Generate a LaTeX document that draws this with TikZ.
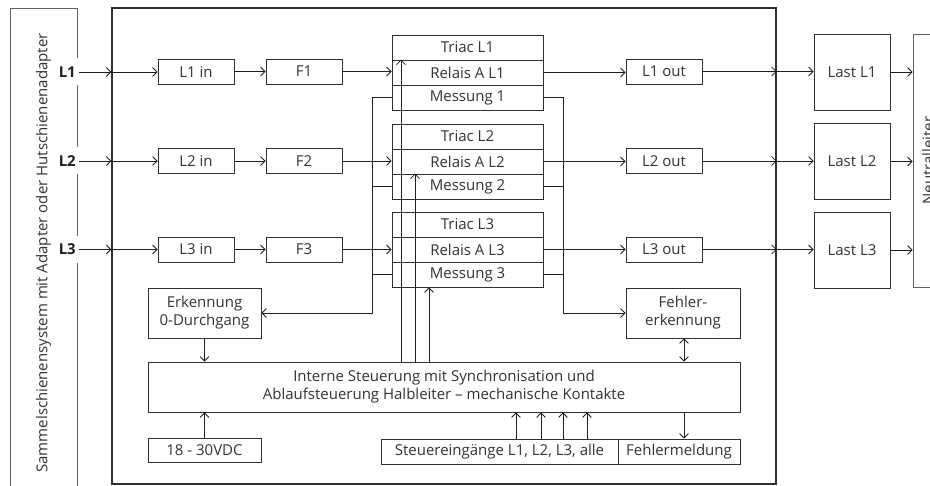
\documentclass[tikz,border=0pt]{standalone}
\usepackage{fontspec}
\setmainfont{Open Sans}
\usetikzlibrary{arrows.meta}
\definecolor{linec}{HTML}{1E1E1E}
\definecolor{boxc}{HTML}{303030}
\definecolor{grayc}{HTML}{606060}
\definecolor{txt}{HTML}{333333}
\begin{document}
\begin{tikzpicture}[x=1pt,y=-1pt,
  font=\fontsize{15}{18}\selectfont,
  box/.style={draw=boxc, line width=0.8pt, inner sep=0pt, text=txt, align=center},
  arr/.style={-{Straight Barb[length=4.5pt,width=9pt]}, line width=0.8pt, draw=linec},
  dbl/.style={{Straight Barb[length=4.5pt,width=9pt]}-{Straight Barb[length=4.5pt,width=9pt]}, line width=0.8pt, draw=linec},
  ln/.style={line width=0.8pt, draw=linec},
  lab/.style={font=\fontsize{15}{18}\selectfont\bfseries, text=linec, fill=white, inner xsep=3pt, inner ysep=0pt, minimum height=27pt, anchor=east}]
\useasboundingbox (0,0) rectangle (930,486);
\clip (0,0) rectangle (930,486);
\fill[white] (0,0) rectangle (930,486);

% outer boxes
\node[box, draw=grayc, rotate=90, minimum width=490pt, minimum height=67pt] (sam) at (43.5,253) {Sammelschienensystem mit Adapter oder Hutschienenadapter};
\node[box, draw=boxc, line width=1.3pt, minimum width=664pt, minimum height=476pt] (main) at (444,246) {};
\node[box, draw=grayc, rotate=90, minimum width=253pt, minimum height=30pt] (neut) at (928,160.5) {Neutralleiter};

% phase labels
\node[lab] (La) at (79,72) {L1};
\node[lab] (Lb) at (79,161) {L2};
\node[lab] (Lc) at (79,249.5) {L3};

% input boxes
\node[box, minimum width=76pt, minimum height=25pt] (in1) at (196,71.5) {L1 in};
\node[box, minimum width=76pt, minimum height=25pt] (in2) at (196,161) {L2 in};
\node[box, minimum width=76pt, minimum height=25pt] (in3) at (196,249.5) {L3 in};
\node[box, minimum width=76pt, minimum height=25pt] (f1) at (304,71.5) {F1};
\node[box, minimum width=76pt, minimum height=25pt] (f2) at (304,161) {F2};
\node[box, minimum width=76pt, minimum height=25pt] (f3) at (304,249.5) {F3};

% stacks
\node[box, minimum width=151pt, minimum height=25pt] (tr1) at (467.5,47.5) {Triac L1};
\node[box, minimum width=151pt, minimum height=25pt] (re1) at (467.5,72.5) {Relais A L1};
\node[box, minimum width=151pt, minimum height=25pt] (me1) at (467.5,97.5) {Messung 1};
\node[box, minimum width=151pt, minimum height=25pt] (tr2) at (467.5,136.5) {Triac L2};
\node[box, minimum width=151pt, minimum height=25pt] (re2) at (467.5,161.5) {Relais A L2};
\node[box, minimum width=151pt, minimum height=25pt] (me2) at (467.5,186.5) {Messung 2};
\node[box, minimum width=151pt, minimum height=25pt] (tr3) at (467.5,224.5) {Triac L3};
\node[box, minimum width=151pt, minimum height=25pt] (re3) at (467.5,249.5) {Relais A L3};
\node[box, minimum width=151pt, minimum height=25pt] (me3) at (467.5,274.5) {Messung 3};

% output boxes
\node[box, minimum width=76pt, minimum height=25pt] (out1) at (664,71.5) {L1 out};
\node[box, minimum width=76pt, minimum height=25pt] (out2) at (664,161) {L2 out};
\node[box, minimum width=76pt, minimum height=25pt] (out3) at (664,249.5) {L3 out};
\node[box, minimum width=76pt, minimum height=76pt] (last1) at (852,72) {Last L1};
\node[box, minimum width=76pt, minimum height=76pt] (last2) at (852,161.5) {Last L2};
\node[box, minimum width=76pt, minimum height=76pt] (last3) at (852,250) {Last L3};

% lower boxes
\node[box, minimum width=113pt, minimum height=50pt] (erk) at (204.5,313) {Erkennung\\0-Durchgang};
\node[box, minimum width=114pt, minimum height=50pt] (fe) at (683,313) {Fehler-\\erkennung};
\node[box, minimum width=592pt, minimum height=50pt] (int) at (444,387) {Interne Steuerung mit Synchronisation und\\Ablaufsteuerung Halbleiter – mechanische Kontakte};
\node[box, minimum width=113pt, minimum height=24pt] (vdc) at (204.5,450) {18 - 30VDC};
\node[box, minimum width=237pt, minimum height=25pt] (st) at (499.5,451.5) {Steuereingänge L1, L2, L3, alle};
\node[box, minimum width=122pt, minimum height=25pt] (fm) at (679,451.5) {Fehlermeldung};

% phase lines
\foreach \l/\i/\f/\r/\o/\la in {La/in1/f1/re1/out1/last1, Lb/in2/f2/re2/out2/last2, Lc/in3/f3/re3/out3/last3}{
  \draw[arr] (\l.east) -- (\l.east -| main.west);
  \draw[arr] (\l.east -| main.west) -- (\l.east -| \i.west);
  \draw[arr] (\i.east) -- (\i.east -| \f.west);
  \draw[arr] (\f.east) -- (\f.east -| \r.west);
  \draw[arr] (\r.east) -- (\r.east -| \o.west);
  \draw[arr] (\o.east) -- (\o.east -| main.east);
  \draw[arr] (\o.east -| main.east) -- (\o.east -| \la.west);
  \draw[arr] (\la.east) -- (\la.east -| neut.north);
}

% measurement buses
\coordinate (lb) at (372,0);
\coordinate (rb) at (563,0);
\draw[arr] (me1.west) -- (me1.west -| lb) -- (lb |- erk.east) -- (erk.east);
\draw[ln] (me2.west) -- (me2.west -| lb);
\draw[ln] (me3.west) -- (me3.west -| lb);
\draw[arr] (me1.east) -- (me1.east -| rb) -- (rb |- fe.west) -- (fe.west);
\draw[ln] (me2.east) -- (me2.east -| rb);
\draw[ln] (me3.east) -- (me3.east -| rb);

% control lines up to stacks
\draw[arr] (401,0 |- int.north) -- (401,0 |- re1.north);
\draw[arr] (415,0 |- int.north) -- (415,0 |- me2.north);
\draw[arr] (429,0 |- int.north) -- (429,0 |- me3.south);

% lower connections
\draw[arr] (erk.south) -- (erk.south |- int.north);
\draw[arr] (vdc.north) -- (vdc.north |- int.south);
\foreach \xx in {516,541,563,587}{
  \draw[arr] (\xx,0 |- st.north) -- (\xx,0 |- int.south);
}
\draw[arr] (684,0 |- int.south) -- (684,0 |- fm.north);
\draw[dbl] (684,0 |- fe.south) -- (684,0 |- int.north);
\end{tikzpicture}
\end{document}
